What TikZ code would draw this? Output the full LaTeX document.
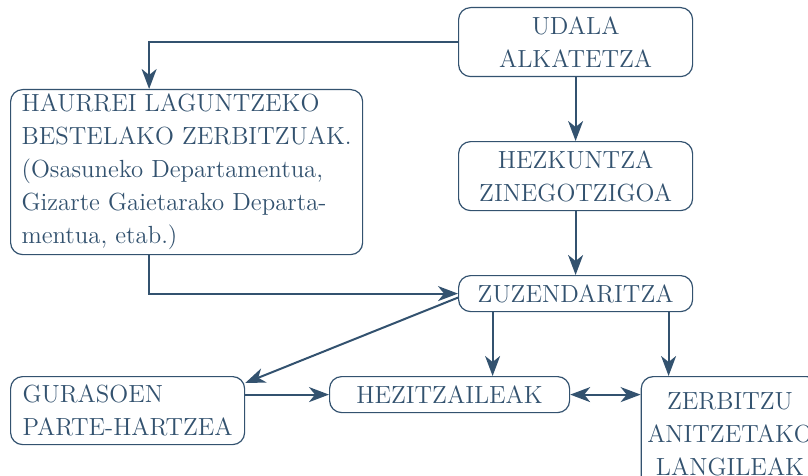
\documentclass[tikz,border=0pt]{standalone}
\usepackage{tikz}
\usetikzlibrary{arrows.meta}
\definecolor{ink}{HTML}{33526F}

\begin{document}
\begin{tikzpicture}[x=0.5pt,y=-0.5pt,->,>={Stealth[length=10pt,width=7.5pt,inset=3pt]},
  line width=1pt,draw=ink,
  main node/.style={draw=ink,line width=0.6pt,rounded corners=6pt,text=ink,anchor=north west,
    inner xsep=5.5pt,inner ysep=0pt,font=\fontsize{12.4}{16.5}\selectfont,align=center},
  left node/.style={main node,align=left}]
  \clip (0,0) rectangle (808,476);
  \node[main node,minimum width=117pt,minimum height=34.5pt] (1) at (458,7) {UDALA\\ALKATETZA};
  \node[main node,minimum width=117pt,minimum height=34.5pt] (2) at (458,141) {HEZKUNTZA\\ZINEGOTZIGOA};
  \node[main node,minimum width=117pt,minimum height=18pt] (3) at (458,275) {ZUZENDARITZA};
  \node[left node,minimum width=175.5pt,minimum height=82.5pt] (4) at (10,89)
    {HAURREI LAGUNTZEKO\\BESTELAKO ZERBITZUAK.\\(Osasuneko Departamentua,\\Gizarte Gaietarako Departa-\\mentua, etab.)};
  \node[left node,minimum width=117pt,minimum height=34pt] (5) at (10,376) {GURASOEN\\PARTE-HARTZEA};
  \node[main node,minimum width=120pt,minimum height=18pt] (6) at (329,376) {HEZITZAILEAK};
  \node[main node,anchor=north,inner xsep=3pt,minimum width=87pt,minimum height=57.5pt] (7) at (730,376)
    {ZERBITZU\\ANITZETAKO\\LANGILEAK};

  \draw (1.west) -| ([xshift=-18.75pt]4.north);
  \draw ([xshift=-18.75pt]4.south) |- (3.west);
  \path
    (1) edge (2)
    (2) edge (3)
    ([yshift=-2pt]3.west) edge ([yshift=-3.5pt]5.north east)
    ([xshift=-41.5pt]3.south) edge ([xshift=-41.5pt]3.south |- 6.north)
    ([xshift=46.5pt]3.south) edge ([xshift=46.5pt]3.south |- 7.north)
    (6.west -| 5.east) edge (6.west)
    (6.east) edge[<->] (7.west |- 6.east);
\end{tikzpicture}
\end{document}
